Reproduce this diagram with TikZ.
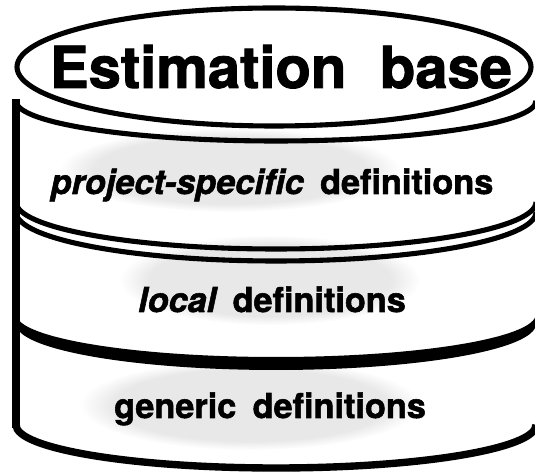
\documentclass[tikz,border=0pt]{standalone}
\usepackage{fontspec}
\newfontfamily\inkfont[BoldFeatures={FakeBold=1.6},BoldItalicFeatures={FakeBold=1.6}]{TeX Gyre Heros}
\usetikzlibrary{fadings}

\begin{document}
\begin{tikzpicture}[x=0.02cm,y=-0.02cm,
    rim/.style={line width=2.9pt},
    heavy/.style={line width=4.2pt},
    speckle/.style={black!9,path fading=circle with fuzzy edge 20 percent},
    layertext/.style={font=\inkfont\bfseries\fontsize{19.5}{21}\selectfont,anchor=base}]
            \useasboundingbox (0,0) rectangle (535,472);

            % grey dots of the print
            \fill[speckle] (230,170) ellipse [x radius=170,y radius=42];
            \fill[speckle] (270,280) ellipse [x radius=150,y radius=45];
            \fill[speckle] (250,405) ellipse [x radius=170,y radius=45];

            % top of the base
            \draw[rim] (274,67) ellipse [x radius=257,y radius=59];
            \draw[rim] (16,101) arc[start angle=180,end angle=0,x radius=260,y radius=40];
            \draw[heavy] (16,99) -- (16,428);

            % layer borders
            \draw[rim] (16,202) arc[start angle=180,end angle=0,x radius=260,y radius=47];
            \draw[rim] (16,212) arc[start angle=180,end angle=0,x radius=260,y radius=49];
            \fill (16,314) arc[start angle=180,end angle=0,x radius=260,y radius=43]
                -- (536,324) arc[start angle=0,end angle=180,x radius=260,y radius=46] -- cycle;
            \draw[heavy] (16,425) arc[start angle=180,end angle=0,x radius=260,y radius=43];

            \node[font=\inkfont\bfseries\fontsize{33}{36}\selectfont,anchor=base] (title) at (281,88) {Estimation\hspace{0.3em} base};
            \node[layertext] (project) at (272,194) {\itshape project-specific\hspace{0.2em} \upshape definitions};
            \node[layertext] (local) at (272,312) {\itshape local\hspace{0.2em} \upshape definitions};
            \node[layertext] (generic) at (270,418) {generic\hspace{0.2em} definitions};
        \end{tikzpicture}
\end{document}
